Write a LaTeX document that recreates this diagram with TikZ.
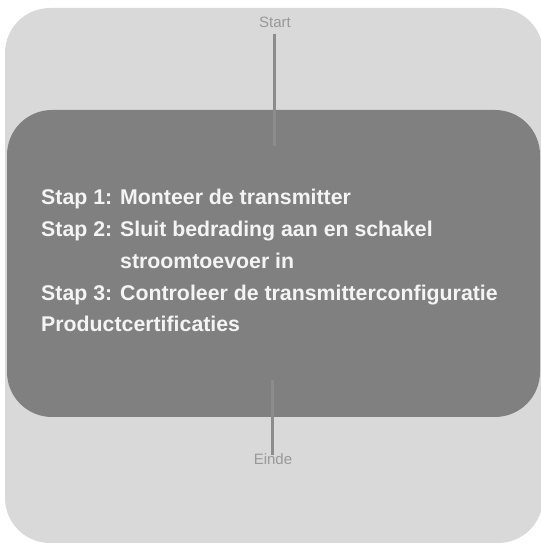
\documentclass[tikz,border=0pt]{standalone}
\usepackage{fontspec}
\setmainfont{Liberation Sans}
\definecolor{outerbg}{HTML}{D9D9D9}
\definecolor{innerbg}{HTML}{808080}
\definecolor{labelgray}{HTML}{999999}
\definecolor{linegray}{HTML}{8C8C8C}
\definecolor{stepwhite}{HTML}{F4F4F4}
\tikzset{
  endlabel/.style={inner sep=0pt, text=labelgray, font=\fontsize{15pt}{17pt}\selectfont},
  stemline/.style={draw=linegray, line width=3pt},
  steptext/.style={inner sep=0pt, anchor=base west, text=stepwhite, font=\bfseries\fontsize{21.3pt}{25pt}\selectfont}
}
\begin{document}
\begin{tikzpicture}[x=1pt,y=1pt]
\useasboundingbox (0,0) rectangle (541,544);
\begin{scope}
\clip (0,0) rectangle (541,544);
\fill[outerbg, rounded corners=45pt] (5,1) rectangle (543,536);
\fill[innerbg, rounded corners=45pt] (7,127) rectangle (540,434);
\end{scope}
\node[endlabel] (start) at (275,521.5) {Start};
\coordinate (startend) at (274,398);
\draw[stemline] (274,510) -- (startend);
\coordinate (eindebeg) at (272,164);
\node[endlabel] (einde) at (273,85) {Einde};
\draw[stemline] (eindebeg) -- (272,89);
\node[steptext] (s1a) at (41,339) {Stap 1:};
\node[steptext] (s1b) at (120,339) {Monteer de transmitter};
\node[steptext] (s2a) at (41,307) {Stap 2:};
\node[steptext] (s2b) at (120,307) {Sluit bedrading aan en schakel};
\node[steptext] (s2c) at (120,275) {stroomtoevoer in};
\node[steptext] (s3a) at (41,243) {Stap 3:};
\node[steptext] (s3b) at (120,243) {Controleer de transmitterconfiguratie};
\node[steptext] (p) at (41,212) {Productcertificaties};
\end{tikzpicture}
\end{document}
